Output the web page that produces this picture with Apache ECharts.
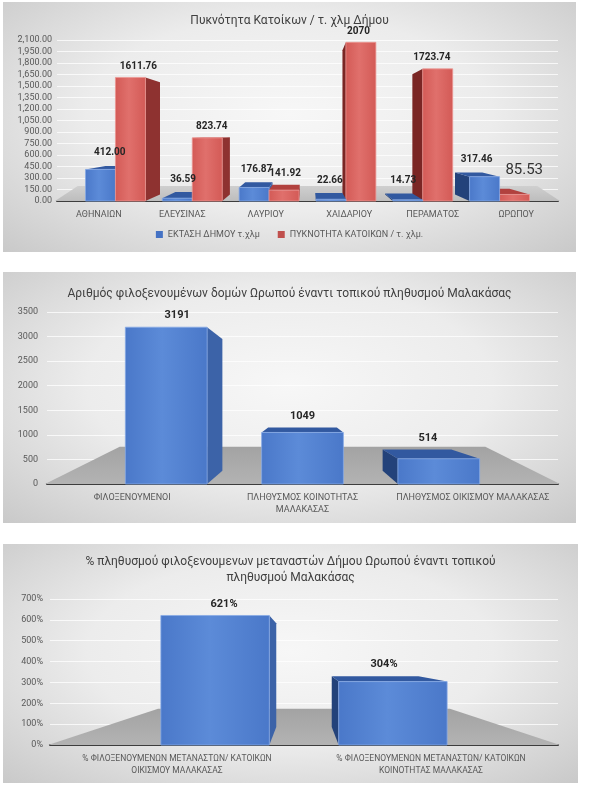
<!DOCTYPE html>
<html>
<head>
<meta charset="utf-8">
<script src="https://cdn.jsdelivr.net/npm/echarts@6/dist/echarts.min.js"></script>
<style>
body { margin: 0; background: #fff; width: 600px; height: 791px; position: relative; overflow: hidden; }
.panel { position: absolute; background: radial-gradient(ellipse at 50% 45%, #f7f7f7 0%, #ececec 50%, #c9c9c9 100%); }
</style>
</head>
<body>
<div id="c1" class="panel" style="left:3px;top:2px;width:573px;height:250px"></div>
<div id="c2" class="panel" style="left:3px;top:272px;width:573px;height:251px"></div>
<div id="c3" class="panel" style="left:3px;top:544px;width:575px;height:239px"></div>
<script>
// chart 1
var densityCategories = ['ΑΘΗΝΑΙΩΝ', 'ΕΛΕΥΣΙΝΑΣ', 'ΛΑΥΡΙΟΥ', 'ΧΑΙΔΑΡΙΟΥ', 'ΠΕΡΑΜΑΤΟΣ', 'ΩΡΩΠΟΥ'];
var areaValues = [412.00, 36.59, 176.87, 22.66, 14.73, 317.46];
var densityValues = [1611.76, 823.74, 141.92, 2070, 1723.74, 85.53];
// chart 2
var hostedCategories = ['ΦΙΛΟΞΕΝΟΥΜΕΝΟΙ', 'ΠΛΗΘΥΣΜΟΣ ΚΟΙΝΟΤΗΤΑΣ\nΜΑΛΑΚΑΣΑΣ', 'ΠΛΗΘΥΣΜΟΣ ΟΙΚΙΣΜΟΥ ΜΑΛΑΚΑΣΑΣ'];
var hostedValues = [3191, 1049, 514];
// chart 3
var percentCategories = ['% ΦΙΛΟΞΕΝΟΥΜΕΝΩΝ ΜΕΤΑΝΑΣΤΩΝ/ ΚΑΤΟΙΚΩΝ\nΟΙΚΙΣΜΟΥ ΜΑΛΑΚΑΣΑΣ', '% ΦΙΛΟΞΕΝΟΥΜΕΝΩΝ ΜΕΤΑΝΑΣΤΩΝ/ ΚΑΤΟΙΚΩΝ\nΚΟΙΝΟΤΗΤΑΣ ΜΑΛΑΚΑΣΑΣ'];
var percentValues = [621, 304];

var FONT = 'Roboto';

function pairs(values) {
    return values.map(function (v, i) { return [i, v]; });
}

function face(points, fill, z) {
    return { type: 'polygon', shape: { points: points }, style: { fill: fill }, z2: z };
}

// fake 3D box drawn from the axis coords, pulled toward a vanishing point
function boxItem(view, look) {
    return function (params, api) {
        var i = api.value(0), v = api.value(1);
        var cs = params.coordSys;
        var cx = cs.x + cs.width / 2, vy = cs.y + cs.height * view.eye;
        var band = api.size([1, 0])[0];
        var p0 = api.coord([i, 0]), p1 = api.coord([i, v]);
        var sx = function (x) { return cx + (x - cx) * view.k; };
        var xl = sx(p0[0] + band * (look.offset - look.width / 2));
        var xr = sx(p0[0] + band * (look.offset + look.width / 2));
        var yb = p0[1], yt = p1[1];
        var back = function (x, y) { return [x + (cx - x) * view.d, y + (vy - y) * view.d]; };
        var z = 1000 - Math.abs((xl + xr) / 2 - cx);
        var kids = [];
        if (xr < cx) {
            kids.push(face([[xr, yt], back(xr, yt), back(xr, yb), [xr, yb]], look.side, z));
        } else if (xl > cx) {
            kids.push(face([[xl, yt], back(xl, yt), back(xl, yb), [xl, yb]], look.sideDark, z));
        }
        if (yt > vy) {
            kids.push(face([[xl, yt], [xr, yt], back(xr, yt), back(xl, yt)], look.top, z));
        }
        kids.push({
            type: 'rect',
            shape: { x: xl, y: yt, width: xr - xl, height: yb - yt },
            style: {
                fill: new echarts.graphic.LinearGradient(0, 0, 1, 0, [
                    { offset: 0, color: look.front[0] },
                    { offset: 0.45, color: look.front[1] },
                    { offset: 1, color: look.front[0] }
                ]),
                stroke: look.stroke, lineWidth: 0.8
            },
            z2: z + 0.5
        });
        var lab = look.label(params.dataIndex, v);
        var mid = (xl + xr) / 2;
        var ly = Math.min(yt, back(mid, yt)[1]) - (lab.gap || 3);
        kids.push({
            type: 'text',
            x: mid + (cx - mid) * view.d / 2 + (lab.dx || 0),
            y: ly + (lab.dy || 0),
            style: {
                text: lab.text, fill: lab.color || '#262626',
                fontSize: lab.size || 10, fontWeight: lab.weight || 'bold', fontFamily: FONT,
                align: 'center', verticalAlign: 'bottom',
                textAlign: 'center', textVerticalAlign: 'bottom'
            },
            z2: 3000
        });
        return { type: 'group', children: kids };
    };
}

function floorItem(view, colors) {
    return function (params, api) {
        var cs = params.coordSys;
        var cx = cs.x + cs.width / 2, vy = cs.y + cs.height * view.eye;
        var y0 = api.coord([0, 0])[1];
        var L = cs.x - 2, R = cs.x + cs.width + 2;
        var yb = y0 + (vy - y0) * view.fy;
        return {
            type: 'polygon',
            shape: { points: [[L, y0], [R, y0], [R + (cx - R) * view.fx, yb], [L + (cx - L) * view.fx, yb]] },
            style: { fill: new echarts.graphic.LinearGradient(0, 0, 0, 1, [
                { offset: 0, color: colors[0] }, { offset: 1, color: colors[1] }
            ]) }
        };
    };
}

var blueLook = {
    front: ['#4a78c9', '#5c8bd8'], side: '#3c63a8', sideDark: '#23427a', top: '#3259a0', stroke: '#86a9e6'
};
var redLook = {
    front: ['#d35a56', '#e0706c'], side: '#8e3230', sideDark: '#7a2624', top: '#b1413e', stroke: '#eb9592'
};

function extend(a, b) {
    var o = {};
    for (var k in a) o[k] = a[k];
    for (var j in b) o[j] = b[j];
    return o;
}

function baseX(cats, size) {
    return {
        type: 'category', data: cats,
        axisTick: { show: false },
        axisLine: { lineStyle: { color: '#3d3d3d', width: 2 } },
        axisLabel: { interval: 0, fontSize: size, color: '#595959', fontFamily: FONT, margin: 8, lineHeight: 12 }
    };
}

function baseY(max, step, fmt, margin) {
    return {
        type: 'value', min: 0, max: max, interval: step,
        axisLine: { show: false }, axisTick: { show: false },
        axisLabel: { fontSize: 9, color: '#595959', fontFamily: FONT, margin: margin, formatter: fmt },
        splitLine: { lineStyle: { color: 'rgba(255,255,255,0.75)', width: 1 } }
    };
}

function fmtThousands(v) {
    var s = v.toFixed(2).split('.');
    return s[0].replace(/\B(?=(\d{3})+(?!\d))/g, ',') + '.' + s[1];
}

var titleStyle = { fontSize: 12, fontWeight: 'normal', color: '#404040', fontFamily: FONT, lineHeight: 16 };

// ---- chart 1
var view1 = { k: 0.92, d: 0.09, eye: 0.56, fx: 0.09, fy: 0.21 };
var chart1 = echarts.init(document.getElementById('c1'));
chart1.setOption({
    title: { text: 'Πυκνότητα Κατοίκων / τ. χλμ Δήμου', left: 'center', top: 6, textStyle: titleStyle },
    legend: {
        data: ['ΕΚΤΑΣΗ ΔΗΜΟΥ τ.χλμ', 'ΠΥΚΝΟΤΗΤΑ ΚΑΤΟΙΚΩΝ / τ. χλμ.'],
        bottom: 8, left: 'center', icon: 'rect', itemWidth: 7, itemHeight: 7, itemGap: 18,
        textStyle: { fontSize: 9, color: '#595959', fontFamily: FONT }
    },
    grid: { left: 54, right: 18, top: 38, bottom: 51 },
    xAxis: baseX(densityCategories, 9),
    yAxis: baseY(2100, 150, fmtThousands, 5),
    series: [
        { type: 'custom', name: 'floor', z: 1, silent: true, data: [[0, 0]], renderItem: floorItem(view1, ['#cfcfcf', '#bdbdbd']) },
        {
            type: 'custom', name: 'ΕΚΤΑΣΗ ΔΗΜΟΥ τ.χλμ', itemStyle: { color: '#4472c4' },
            data: pairs(areaValues), encode: { x: 0, y: 1 },
            renderItem: boxItem(view1, extend(blueLook, {
                width: 0.39, offset: -0.195,
                label: function (i, v) { return { text: v.toFixed(2), gap: 8 }; }
            }))
        },
        {
            type: 'custom', name: 'ΠΥΚΝΟΤΗΤΑ ΚΑΤΟΙΚΩΝ / τ. χλμ.', itemStyle: { color: '#c0504d' },
            data: pairs(densityValues), encode: { x: 0, y: 1 },
            renderItem: boxItem(view1, extend(redLook, {
                width: 0.39, offset: 0.195,
                label: function (i, v) {
                    if (i === densityValues.length - 1) {
                        return { text: String(v), size: 15, weight: 'normal', color: '#333', dx: 19, dy: -8 };
                    }
                    return { text: String(v), gap: 6 };
                }
            }))
        }
    ]
});

// ---- chart 2
var view2 = { k: 0.8, d: 0.16, eye: 0.52, fx: 0.29, fy: 0.45 };
var chart2 = echarts.init(document.getElementById('c2'));
chart2.setOption({
    title: { text: 'Αριθμός φιλοξενουμένων δομών Ωρωπού έναντι τοπικού πληθυσμού Μαλακάσας', left: 'center', top: 9, textStyle: titleStyle },
    grid: { left: 44, right: 18, top: 40, bottom: 39 },
    xAxis: baseX(hostedCategories, 9),
    yAxis: baseY(3500, 500, function (v) { return String(v); }, 9),
    series: [
        { type: 'custom', z: 1, silent: true, data: [[0, 0]], renderItem: floorItem(view2, ['#a3a3a3', '#b3b3b3']) },
        {
            type: 'custom', data: pairs(hostedValues), encode: { x: 0, y: 1 },
            renderItem: boxItem(view2, extend(blueLook, {
                width: 0.6, offset: 0,
                label: function (i, v) { return { text: String(v), size: 11, gap: 6 }; }
            }))
        }
    ]
});

// ---- chart 3
var view3 = { k: 0.7, d: 0.2, eye: 0.38, fx: 0.43, fy: 0.4 };
var chart3 = echarts.init(document.getElementById('c3'));
chart3.setOption({
    title: {
        text: '% πληθυσμού φιλοξενουμενων μεταναστών Δήμου Ωρωπού έναντι τοπικού\nπληθυσμού Μαλακάσας',
        left: 'center', top: 5, textStyle: titleStyle
    },
    grid: { left: 47, right: 20, top: 55, bottom: 38 },
    xAxis: baseX(percentCategories, 8.5),
    yAxis: baseY(700, 100, '{value}%', 7),
    series: [
        { type: 'custom', z: 1, silent: true, data: [[0, 0]], renderItem: floorItem(view3, ['#a3a3a3', '#b3b3b3']) },
        {
            type: 'custom', data: pairs(percentValues), encode: { x: 0, y: 1 },
            renderItem: boxItem(view3, extend(blueLook, {
                width: 0.61, offset: 0,
                label: function (i, v) { return { text: v + '%', size: 11, gap: 6 }; }
            }))
        }
    ]
});
</script>
</body>
</html>
